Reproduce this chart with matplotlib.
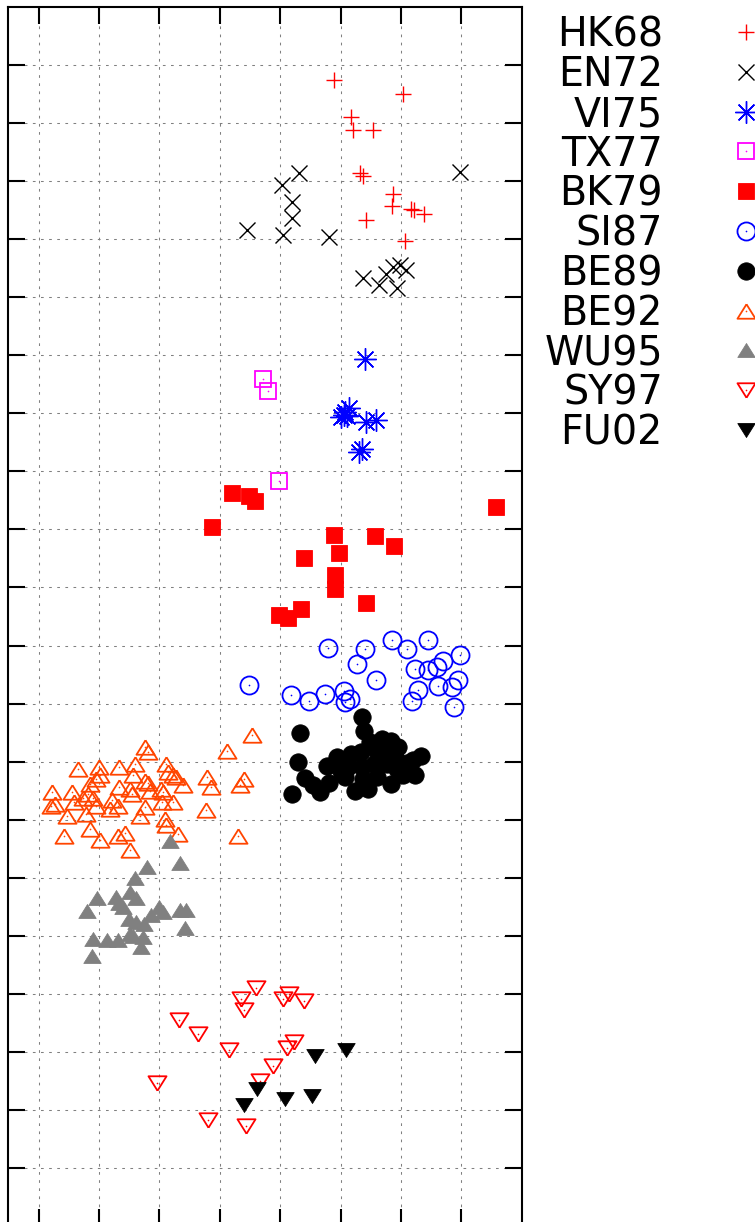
import matplotlib
matplotlib.use("Agg")
import matplotlib.pyplot as plt

# Antigenic map coordinates (grid units)
hk68_x = [4.90, 6.04, 5.17, 5.21, 5.53, 5.32, 5.37, 5.87, 5.86, 6.17, 6.21, 6.39, 5.42, 6.06]
hk68_y = [19.74, 19.51, 19.11, 18.89, 18.89, 18.15, 18.09, 17.79, 17.57, 17.53, 17.50, 17.44, 17.34, 16.97]

en72_x = [4.32, 6.98, 4.03, 4.19, 4.19, 4.05, 3.45, 4.81, 5.37, 5.63, 5.75, 5.87, 5.94, 6.09, 5.99]
en72_y = [18.14, 18.16, 17.94, 17.64, 17.36, 17.07, 17.16, 17.04, 16.34, 16.22, 16.41, 16.52, 16.16, 16.47, 16.55]

vi75_x = [5.41, 5.14, 5.05, 5.10, 5.01, 5.07, 5.42, 5.59, 5.31, 5.36]
vi75_y = [14.93, 14.10, 13.98, 13.95, 13.93, 14.02, 13.86, 13.88, 13.34, 13.38]

tx77_x = [3.72, 3.80, 3.99]
tx77_y = [14.60, 14.38, 12.84]

bk79_x = [3.20, 3.48, 3.58, 2.87, 7.57, 4.89, 5.57, 5.89, 4.97, 4.40, 4.91, 4.91, 5.42, 4.34, 3.98, 4.13]
bk79_y = [12.63, 12.57, 12.49, 12.04, 12.39, 11.91, 11.88, 11.71, 11.60, 11.51, 11.21, 10.98, 10.74, 10.63, 10.53, 10.47]

si87_x = [4.79, 5.41, 5.86, 6.10, 6.45, 5.27, 6.23, 6.45, 6.60, 6.70, 6.98, 5.58, 3.49,
          6.95, 6.62, 6.84, 6.28, 4.18, 4.48, 4.75, 5.06, 5.07, 5.16, 6.19, 6.88]
si87_y = [9.96, 9.94, 10.09, 9.94, 10.10, 9.68, 9.59, 9.58, 9.63, 9.73, 9.84, 9.40, 9.32,
          9.40, 9.31, 9.28, 9.24, 9.14, 9.04, 9.17, 9.21, 9.02, 9.07, 9.04, 8.94]

be89_x = [5.36, 5.39, 4.33, 4.29, 4.41, 4.55, 4.66, 4.20, 4.81, 4.77, 4.95, 5.07, 5.24, 5.46,
          5.17, 5.34, 5.69, 5.83, 5.96, 5.60, 5.83, 6.04, 6.24, 6.20, 6.34, 5.55, 5.77, 5.93,
          5.35, 5.13, 5.60, 5.38, 5.71, 5.90, 5.00, 5.49, 6.10]
be89_y = [8.76, 8.52, 8.49, 7.99, 7.72, 7.59, 7.47, 7.44, 7.63, 7.93, 8.07, 7.73, 7.49, 7.53,
          8.13, 8.17, 8.39, 8.36, 8.25, 8.19, 7.62, 7.76, 7.76, 8.03, 8.09, 7.96, 7.96, 7.87,
          7.90, 7.90, 7.73, 7.70, 8.16, 8.07, 7.84, 8.33, 7.97]

be92_x = [3.54, 3.12, 1.77, 1.82, 0.65, 1.00, 1.33, 1.60, 2.11, 3.41, 3.34, 2.79, 2.85, 2.39,
          2.14, 2.23, 2.28, 1.76, 1.82, 1.56, 0.95, 1.01, 0.86, 1.34, 1.51, 1.54, 2.03, 2.06,
          1.84, 0.56, 0.73, 0.82, 0.90, 0.59, 0.23, 0.21, 0.27, 1.21, 0.96, 1.18, 1.31, 0.79,
          0.47, 1.76, 1.68, 2.05, 2.23, 2.78, 2.09, 2.11, 2.31, 0.85, 1.01, 1.31, 1.44, 1.52,
          0.42, 3.30]
be92_y = [8.45, 8.19, 8.25, 8.16, 7.87, 7.91, 7.90, 7.95, 7.96, 7.70, 7.59, 7.73, 7.56, 7.59,
          7.82, 7.76, 7.73, 7.67, 7.63, 7.76, 7.70, 7.76, 7.62, 7.56, 7.53, 7.44, 7.53, 7.47,
          7.50, 7.47, 7.38, 7.44, 7.38, 7.30, 7.47, 7.24, 7.27, 7.34, 7.24, 7.18, 7.24, 7.10,
          7.07, 7.21, 7.07, 7.30, 7.31, 7.17, 7.01, 6.91, 6.75, 6.84, 6.64, 6.71, 6.76, 6.47,
          6.71, 6.72]

wu95_x = [2.17, 2.35, 1.80, 1.60, 1.52, 0.97, 1.29, 1.33, 1.40, 1.61, 0.80, 2.00, 2.06, 1.87,
          2.34, 2.45, 1.50, 1.62, 1.75, 2.42, 1.56, 1.73, 0.90, 1.13, 1.31, 1.70, 0.89, 1.51]
wu95_y = [6.63, 6.25, 6.18, 5.99, 5.76, 5.64, 5.66, 5.56, 5.50, 5.65, 5.43, 5.49, 5.40, 5.36,
          5.44, 5.44, 5.28, 5.23, 5.20, 5.13, 5.00, 4.98, 4.94, 4.93, 4.93, 4.81, 4.64, 5.03]

sy97_x = [3.60, 3.35, 3.41, 4.05, 4.15, 4.40, 2.32, 2.64, 3.15, 4.11, 4.23, 3.89, 3.66, 1.97, 2.80, 3.43]
sy97_y = [4.09, 3.91, 3.71, 3.91, 3.99, 3.87, 3.55, 3.31, 3.02, 3.06, 3.16, 2.75, 2.50, 2.46, 1.82, 1.72]

fu02_x = [4.57, 5.09, 3.62, 4.08, 4.52, 3.40]
fu02_y = [2.92, 3.03, 2.36, 2.18, 2.24, 2.08]

tri_up = [(0, 0.8), (-1, -0.8), (1, -0.8), (0, 0.8)]
tri_dn = [(0, -0.8), (-1, 0.8), (1, 0.8), (0, -0.8)]

# name, x, y, marker, colour, filled, size
series = [
    ("HK68", hk68_x, hk68_y, "+", "#ff0000", True, 12),
    ("EN72", en72_x, en72_y, "x", "#000000", True, 12),
    ("VI75", vi75_x, vi75_y, (8, 2, 0), "#0000ff", True, 16),
    ("TX77", tx77_x, tx77_y, "s", "#ff00ff", False, 12),
    ("BK79", bk79_x, bk79_y, "s", "#ff0000", True, 12),
    ("SI87", si87_x, si87_y, "o", "#0000ff", False, 13),
    ("BE89", be89_x, be89_y, "o", "#000000", True, 12.5),
    ("BE92", be92_x, be92_y, tri_up, "#ff4500", False, 13),
    ("WU95", wu95_x, wu95_y, tri_up, "#808080", True, 12.5),
    ("SY97", sy97_x, sy97_y, tri_dn, "#ff0000", False, 13),
    ("FU02", fu02_x, fu02_y, tri_dn, "#000000", True, 12.5),
]

fig = plt.figure(figsize=(7.55, 12.22), dpi=100)
ax = fig.add_axes([8.3 / 755, -3.7 / 1222, 513.4 / 755, 1218.4 / 1222])


def draw(axis, x, y, marker, color, filled, size):
    if marker in ("+", "x") or isinstance(marker, tuple):
        axis.plot(x, y, ls="none", marker=marker, ms=size, mew=1.0, color=color)
    elif filled:
        axis.plot(x, y, ls="none", marker=marker, ms=size, mew=0.6,
                  mfc=color, mec=color)
    else:
        axis.plot(x, y, ls="none", marker=marker, ms=size, mew=1.3,
                  mfc="none", mec=color)
        axis.plot(x, y, ls="none", marker="o", ms=1.2, mew=0, mfc=color)


for name, x, y, marker, color, filled, size in series:
    draw(ax, x, y, marker, color, filled, size)

ax.set_xlim(-0.5, 8)
ax.set_ylim(0, 21)
ax.set_xticks(range(0, 8))
ax.set_yticks(range(1, 21))
ax.tick_params(direction="in", length=12, width=1.5, top=True, right=True,
               labelleft=False, labelbottom=False)
ax.grid(True, color="#808080", lw=0.75, ls=(0, (2.6, 5.2)))
for sp in ax.spines.values():
    sp.set_linewidth(1.5)

# key at the right, labels right-aligned, symbol after label
lax = fig.add_axes([0, 0, 1, 1])
lax.set_xlim(0, 755)
lax.set_ylim(1222, 0)
lax.axis("off")
for i, (name, x, y, marker, color, filled, size) in enumerate(series):
    yc = 32 + 39.8 * i
    lax.text(663, yc + 14.6, name, ha="right", va="baseline", fontsize=28.5,
             family="DejaVu Sans", color="black")
    draw(lax, [745.7], [yc], marker, color, filled, size)

fig.savefig("out.png", dpi=100)
